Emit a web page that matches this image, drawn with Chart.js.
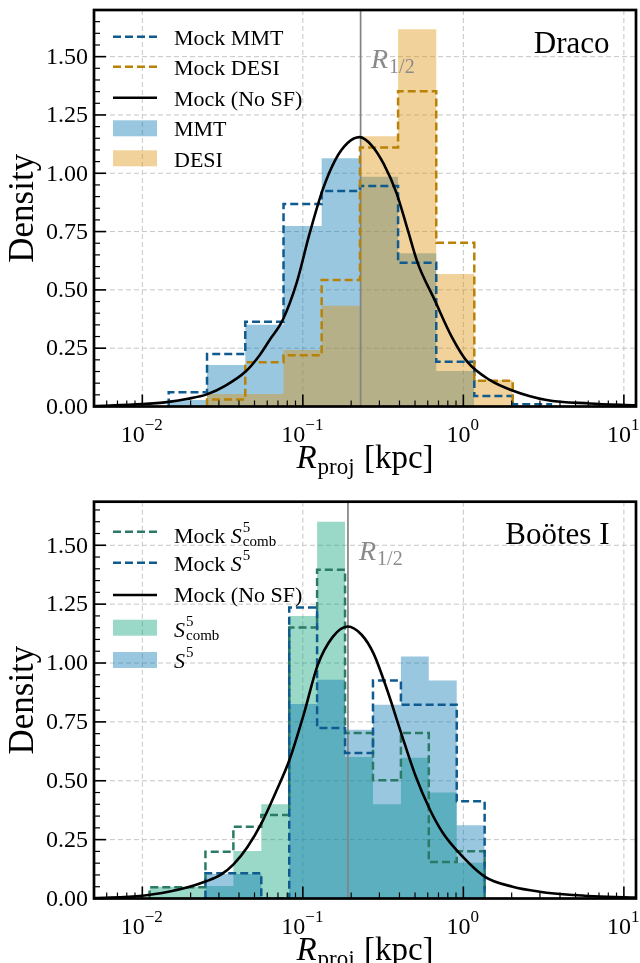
<!DOCTYPE html>
<html><head><meta charset="utf-8">
<script src="https://cdn.jsdelivr.net/npm/chart.js@4"></script>
<style>
html,body{margin:0;padding:0;background:#fff;}
#wrap{position:relative;width:640px;height:963px;overflow:hidden;background:#fff;}
canvas{position:absolute;left:0;}
</style></head><body>
<div id="wrap">
<canvas id="c1" width="640" height="482" style="top:0"></canvas>
<canvas id="c2" width="640" height="481" style="top:482px"></canvas>
</div>
<script>
// ---------------- DATA ----------------
// Draco (top panel): log-spaced bin edges [kpc]
const dracoEdges = [0.0146, 0.0253, 0.0438, 0.0758, 0.131, 0.227, 0.392, 0.678, 1.17, 2.03, 3.51];
const dracoMMT      = [0.028, 0.178, 0.350, 0.774, 1.064, 0.985, 0.657, 0.152, 0, 0];
const dracoDESI     = [0, 0.054, 0.054, 0.242, 0.432, 1.159, 1.617, 0.568, 0.114, 0];
const dracoMockMMT  = [0.061, 0.225, 0.363, 0.868, 0.924, 0.945, 0.616, 0.192, 0.045, 0.010];
const dracoMockDESI = [0, 0.030, 0.190, 0.220, 0.542, 1.110, 1.352, 0.702, 0.110, 0];
const dracoCurveR = [0.005, 0.01, 0.0146, 0.0192, 0.0252, 0.0330, 0.0440, 0.0538, 0.0621, 0.0748, 0.0915, 0.110, 0.133, 0.160, 0.190, 0.226, 0.268, 0.319, 0.384, 0.449, 0.519, 0.662, 0.845, 1.063, 1.457, 1.998, 3.30, 6.11, 11.83];
const dracoCurveD = [0.002, 0.010, 0.020, 0.033, 0.052, 0.090, 0.150, 0.220, 0.285, 0.370, 0.530, 0.740, 0.930, 1.060, 1.130, 1.155, 1.120, 1.040, 0.914, 0.760, 0.616, 0.457, 0.300, 0.190, 0.114, 0.070, 0.028, 0.013, 0.005];
const dracoRhalf = 0.229;

// Bootes I (bottom panel)
const booEdges = [0.0111, 0.01657, 0.02473, 0.03692, 0.0551, 0.08227, 0.1227, 0.1832, 0.2735, 0.4083, 0.6091, 0.9092, 1.357];
const booComb     = [0.050, 0.050, 0.053, 0.202, 0.400, 1.200, 1.600, 0.601, 0.400, 0.598, 0.450, 0.152];
const booS5       = [0, 0, 0.104, 0.104, 0, 0.826, 0.929, 0.717, 0.823, 1.028, 0.926, 0.311];
const booMockComb = [0.048, 0.048, 0.199, 0.305, 0.355, 1.151, 1.396, 0.703, 0.502, 0.703, 0.155, 0.201];
const booMockS5   = [0, 0, 0.107, 0.107, 0, 1.236, 0.724, 0.618, 0.926, 0.823, 0.823, 0.413];
const booCurveR = [0.005, 0.01, 0.0148, 0.0192, 0.0248, 0.0307, 0.0370, 0.0453, 0.0553, 0.0677, 0.0827, 0.1011, 0.1236, 0.1532, 0.1901, 0.2323, 0.2759, 0.3373, 0.4064, 0.5041, 0.6163, 0.7424, 0.9077, 1.356, 2.027, 2.985, 4.791, 9.959, 11.83];
const booCurveD = [0.002, 0.012, 0.030, 0.048, 0.072, 0.100, 0.145, 0.220, 0.320, 0.450, 0.590, 0.780, 0.990, 1.110, 1.155, 1.120, 1.040, 0.880, 0.710, 0.520, 0.380, 0.280, 0.205, 0.093, 0.050, 0.029, 0.015, 0.005, 0.004];
const booRhalf = 0.191;

// Axis ticks
const xMajor = [0.01, 0.1, 1, 10];
const xMajorLabels = [["10","\u22122"],["10","\u22121"],["10","0"],["10","1"]];
const yMajor = [0, 0.25, 0.5, 0.75, 1.0, 1.25, 1.5];
const yMajorLabels = ["0.00","0.25","0.50","0.75","1.00","1.25","1.50"];
const xMin = 0.005, xMax = 11.9;

// ---------------- STYLE ----------------
const F = '"Liberation Serif","Times New Roman",serif';
const C_BLUE_FILL = 'rgba(1,115,178,0.4)';
const C_ORANGE_FILL = 'rgba(222,143,5,0.4)';
const C_GREEN_FILL = 'rgba(2,158,115,0.4)';
const C_MOCK_BLUE = '#0f5a8e';
const C_MOCK_ORANGE = '#b88206';
const C_MOCK_GREEN = '#2b7a66';
const DASH = [8, 4];
const DASH_W = 2.5;

function stepPts(edges, vals){
  let i0 = 0; while (i0 < vals.length && vals[i0] === 0) i0++;
  let i1 = vals.length - 1; while (i1 >= 0 && vals[i1] === 0) i1--;
  const pts = [{x: edges[i0], y: 0}];
  for (let i = i0; i <= i1; i++){ pts.push({x: edges[i], y: vals[i]}); pts.push({x: edges[i+1], y: vals[i]}); }
  pts.push({x: edges[i1+1], y: 0});
  return pts;
}
function fillDS(edges, vals, color, order){
  return {data: stepPts(edges, vals), borderWidth: 0, borderColor: 'rgba(0,0,0,0)', backgroundColor: color,
          fill: 'origin', pointRadius: 0, tension: 0, order};
}
function stepDS(edges, vals, color, order){
  return {data: stepPts(edges, vals), borderWidth: DASH_W, borderColor: color, borderDash: DASH, borderJoinStyle: 'miter',
          borderCapStyle: 'butt', fill: false, pointRadius: 0, tension: 0, order};
}
function curveDS(xs, ys, order){
  return {data: xs.map((x, i) => ({x, y: ys[i]})), borderWidth: 2.6, borderColor: '#000', fill: false,
          pointRadius: 0, cubicInterpolationMode: 'monotone', order};
}
function vlineDS(x, ymax, order){
  return {data: [{x, y: 0}, {x, y: ymax}], borderWidth: 1.7, borderColor: '#838383', fill: false, pointRadius: 0, order};
}

function drawRich(ctx, x, y, segs, size, align, smallSize){
  const small = smallSize || Math.round(size * 0.66);
  const meas = () => {
    let w = 0;
    for (const s of segs){
      if (s.sup !== undefined || s.sub !== undefined){
        ctx.font = small + 'px ' + F;
        w += Math.max(s.sup ? ctx.measureText(s.sup).width : 0, s.sub ? ctx.measureText(s.sub).width : 0) + 1;
      } else {
        ctx.font = (s.it ? 'italic ' : '') + (s.size || size) + 'px ' + F;
        w += ctx.measureText(s.t).width + (s.it ? 1 : 0);
      }
    }
    return w;
  };
  let cx = x;
  if (align === 'center') cx = x - meas() / 2; else if (align === 'right') cx = x - meas();
  ctx.textAlign = 'left'; ctx.textBaseline = 'alphabetic';
  for (const s of segs){
    if (s.sup !== undefined || s.sub !== undefined){
      ctx.font = small + 'px ' + F;
      let w = 0;
      if (s.sup){ ctx.fillText(s.sup, cx, y + (s.supDy !== undefined ? s.supDy : -size * 0.45)); w = Math.max(w, ctx.measureText(s.sup).width); }
      if (s.sub){ ctx.fillText(s.sub, cx, y + (s.subDy !== undefined ? s.subDy : size * 0.15)); w = Math.max(w, ctx.measureText(s.sub).width); }
      cx += w + 1;
    } else {
      ctx.font = (s.it ? 'italic ' : '') + (s.size || size) + 'px ' + F;
      ctx.fillText(s.t, cx, y + (s.dy || 0));
      cx += ctx.measureText(s.t).width + (s.it ? 1 : 0);
    }
  }
}

const deco = {
  id: 'deco',
  beforeDatasetsDraw(chart, args, o){
    const {ctx, chartArea: a, scales: {x, y}} = chart;
    ctx.save();
    ctx.strokeStyle = '#c6c6c6'; ctx.lineWidth = 1; ctx.setLineDash([5, 3]);
    for (const v of xMajor){
      const px = x.getPixelForValue(v);
      if (px < a.left + 1 || px > a.right - 1) continue;
      ctx.beginPath(); ctx.moveTo(px, a.top); ctx.lineTo(px, a.bottom); ctx.stroke();
    }
    for (const v of yMajor){
      const py = y.getPixelForValue(v);
      if (py < a.top + 1 || py > a.bottom - 1) continue;
      ctx.beginPath(); ctx.moveTo(a.left, py); ctx.lineTo(a.right, py); ctx.stroke();
    }
    ctx.restore();
  },
  afterDatasetsDraw(chart, args, o){
    const {ctx, chartArea: a, scales: {x, y}} = chart;
    const off = o.offsetY;
    ctx.save();
    ctx.setLineDash([]);
    ctx.strokeStyle = '#000'; ctx.fillStyle = '#000';
    // ticks (inward, left and bottom)
    ctx.lineWidth = 1.6;
    for (const v of yMajor){
      const py = y.getPixelForValue(v);
      ctx.beginPath(); ctx.moveTo(a.left, py); ctx.lineTo(a.left + 12, py); ctx.stroke();
    }
    for (const v of xMajor){
      const px = x.getPixelForValue(v);
      if (px < a.left || px > a.right) continue;
      ctx.beginPath(); ctx.moveTo(px, a.bottom); ctx.lineTo(px, a.bottom - 12); ctx.stroke();
    }
    ctx.lineWidth = 1.2;
    const ymax = y.max;
    for (let k = 1; k * 0.05 < ymax; k++){
      if (k % 5 === 0) continue;
      const py = y.getPixelForValue(k * 0.05);
      ctx.beginPath(); ctx.moveTo(a.left, py); ctx.lineTo(a.left + 6, py); ctx.stroke();
    }
    for (let d = -3; d <= 1; d++){
      for (let m = 2; m <= 9; m++){
        const v = m * Math.pow(10, d);
        if (v <= xMin * 1.001 || v >= xMax) continue;
        const px = x.getPixelForValue(v);
        ctx.beginPath(); ctx.moveTo(px, a.bottom); ctx.lineTo(px, a.bottom - 6); ctx.stroke();
      }
    }
    // frame
    ctx.lineWidth = 2.7;
    ctx.strokeRect(a.left, a.top, a.right - a.left, a.bottom - a.top);
    // tick labels
    ctx.fillStyle = '#000';
    ctx.textAlign = 'right'; ctx.textBaseline = 'middle';
    ctx.font = '24px ' + F;
    yMajor.forEach((v, i) => {
      const py = y.getPixelForValue(v);
      ctx.fillText(yMajorLabels[i], a.left - 6, py + 1);
    });
    xMajor.forEach((v, i) => {
      const px = x.getPixelForValue(v);
      drawRich(ctx, px, a.bottom + 35, [{t: xMajorLabels[i][0]}, {sup: xMajorLabels[i][1], supDy: -12}], 24, 'center', 17);
    });
    // axis titles
    drawRich(ctx, (a.left + a.right) / 2, a.bottom + 61, [{t: 'R', it: true}, {sub: 'proj', subDy: 6}, {t: ' [kpc]'}], 33, 'center', 23);
    ctx.save();
    ctx.translate(33, (a.top + a.bottom) / 2);
    ctx.rotate(-Math.PI / 2);
    ctx.font = '35px ' + F; ctx.textAlign = 'center'; ctx.textBaseline = 'alphabetic';
    ctx.fillText('Density', 0, 0);
    ctx.restore();
    // panel title
    drawRich(ctx, 609.5, o.title.y - off, o.title.parts, 31, 'right');
    // R1/2 label
    ctx.fillStyle = '#8a8a8a';
    drawRich(ctx, o.rlab.x, o.rlab.y - off, [{t: 'R', it: true}, {sub: '1/2', subDy: 5}], 28, 'left', 20);
    // legend
    for (const it of o.legend){
      const cy = it.cy - off;
      ctx.setLineDash([]);
      if (it.kind === 'dash'){
        ctx.strokeStyle = it.color; ctx.lineWidth = DASH_W; ctx.setLineDash(DASH);
        ctx.beginPath(); ctx.moveTo(113, cy); ctx.lineTo(157, cy); ctx.stroke();
      } else if (it.kind === 'line'){
        ctx.strokeStyle = '#000'; ctx.lineWidth = 2.6;
        ctx.beginPath(); ctx.moveTo(113, cy); ctx.lineTo(157, cy); ctx.stroke();
      } else {
        ctx.fillStyle = it.color;
        ctx.fillRect(113, cy - 8, 44, 16);
      }
      ctx.setLineDash([]);
      ctx.fillStyle = '#000';
      drawRich(ctx, 174, it.by - off, it.parts, 22, 'left', 15);
    }
    ctx.restore();
  }
};

function makeChart(id, datasets, ymax, pad, decoOpts){
  return new Chart(document.getElementById(id), {
    type: 'line',
    data: {datasets},
    options: {
      responsive: false, animation: false, events: [],
      layout: {padding: pad},
      scales: {
        x: {type: 'logarithmic', min: xMin, max: xMax, display: false},
        y: {type: 'linear', min: 0, max: ymax, display: false}
      },
      plugins: {legend: {display: false}, tooltip: {enabled: false}, deco: decoOpts}
    },
    plugins: [deco]
  });
}

const M = (t) => [{t}];

makeChart('c1', [
  fillDS(dracoEdges, dracoMMT, C_BLUE_FILL, 10),
  fillDS(dracoEdges, dracoDESI, C_ORANGE_FILL, 9),
  vlineDS(dracoRhalf, 1.70, 8),
  stepDS(dracoEdges, dracoMockMMT, C_MOCK_BLUE, 7),
  stepDS(dracoEdges, dracoMockDESI, C_MOCK_ORANGE, 6),
  curveDS(dracoCurveR, dracoCurveD, 5)
], 1.70, {left: 94, right: 4, top: 10, bottom: 75.5}, {
  offsetY: 0,
  title: {y: 52.5, parts: M('Draco')},
  rlab: {x: 371, y: 68},
  legend: [
    {kind: 'dash', color: C_MOCK_BLUE, cy: 36.7, by: 45, parts: M('Mock MMT')},
    {kind: 'dash', color: C_MOCK_ORANGE, cy: 66.7, by: 74.5, parts: M('Mock DESI')},
    {kind: 'line', cy: 97.7, by: 105.5, parts: M('Mock (No SF)')},
    {kind: 'patch', color: C_BLUE_FILL, cy: 128.3, by: 136, parts: M('MMT')},
    {kind: 'patch', color: C_ORANGE_FILL, cy: 158.3, by: 166.5, parts: M('DESI')}
  ]
});

makeChart('c2', [
  fillDS(booEdges, booComb, C_GREEN_FILL, 10),
  fillDS(booEdges, booS5, C_BLUE_FILL, 9),
  vlineDS(booRhalf, 1.685, 8),
  stepDS(booEdges, booMockComb, C_MOCK_GREEN, 7),
  stepDS(booEdges, booMockS5, C_MOCK_BLUE, 6),
  curveDS(booCurveR, booCurveD, 5)
], 1.685, {left: 94, right: 4, top: 19.7, bottom: 64.5}, {
  offsetY: 482,
  title: {y: 544, parts: M('Bo\u00f6tes I')},
  rlab: {x: 359, y: 560},
  legend: [
    {kind: 'dash', color: C_MOCK_GREEN, cy: 531.7, by: 543, parts: [{t: 'Mock '}, {t: 'S', it: true}, {sup: '5', sub: 'comb', supDy: -11, subDy: 3}]},
    {kind: 'dash', color: C_MOCK_BLUE, cy: 562.7, by: 571, parts: [{t: 'Mock '}, {t: 'S', it: true}, {sup: '5', supDy: -11}]},
    {kind: 'line', cy: 595, by: 602, parts: M('Mock (No SF)')},
    {kind: 'patch', color: C_GREEN_FILL, cy: 627.7, by: 636.5, parts: [{t: 'S', it: true}, {sup: '5', sub: 'comb', supDy: -11, subDy: 3}]},
    {kind: 'patch', color: C_BLUE_FILL, cy: 660, by: 668, parts: [{t: 'S', it: true}, {sup: '5', supDy: -11}]}
  ]
});
</script>
</body></html>
